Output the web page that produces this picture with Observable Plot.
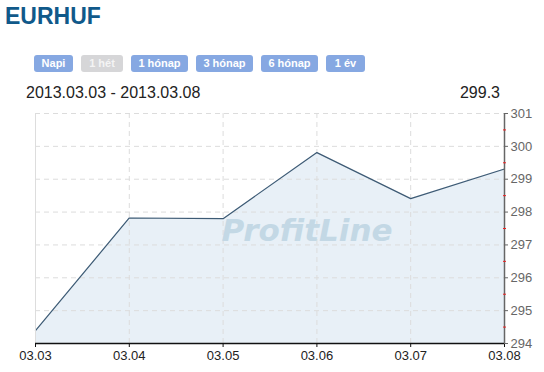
<!DOCTYPE html>
<html><head><meta charset="utf-8">
<script src="https://cdn.jsdelivr.net/npm/d3@7"></script>
<script src="https://cdn.jsdelivr.net/npm/@observablehq/plot@0.6"></script>
<style>
body{margin:0;background:#fff;font-family:"Liberation Sans",Arial,sans-serif;width:544px;height:372px;overflow:hidden;position:relative}
#title{position:absolute;left:5px;top:3px;font-size:23px;font-weight:bold;color:#10598a;letter-spacing:0px}
.btn{position:absolute;top:55px;height:17px;line-height:17px;border-radius:3px;background:#86a8e2;color:#fff;font-size:11px;font-weight:bold;text-align:center}
.btn.off{background:#d6d6d8;color:#f4f4f4}
#range{position:absolute;left:26px;top:84px;font-size:16px;color:#222}
#last{position:absolute;right:44px;top:84px;font-size:16px;color:#222}
#chart{position:absolute;left:0;top:104px}
</style></head><body>
<div id="title">EURHUF</div>
<div id="buttons"></div>
<div id="range"></div>
<div id="last"></div>
<div id="chart"></div>
<script>
const dates = ["03.03","03.04","03.05","03.06","03.07","03.08"];
const rates = [294.39, 297.82, 297.80, 299.81, 298.41, 299.31];
const yTicks = [294,295,296,297,298,299,300,301];
const yMinor = [294.5,295.5,296.5,297.5,298.5,299.5,300.5];
const buttonLabels = ["Napi","1 hét","1 hónap","3 hónap","6 hónap","1 év"];
const buttonX = [34,81,131,196,261,326];
const buttonW = [39,42,57,57,57,39];
const rangeText = "2013.03.03 - 2013.03.08";
const lastText = "299.3";

const bdiv = document.getElementById("buttons");
buttonLabels.forEach((t,i)=>{
  const b=document.createElement("div");
  b.className="btn"+(i===1?" off":"");
  b.style.left=buttonX[i]+"px"; b.style.width=buttonW[i]+"px";
  b.textContent=t; bdiv.appendChild(b);
});
document.getElementById("range").textContent=rangeText;
document.getElementById("last").textContent=lastText;

const data = dates.map((d,i)=>({i, d, v: rates[i]}));
const idx = dates.map((d,i)=>i);

const chart = Plot.plot({
  width: 544, height: 268,
  marginTop: 9, marginBottom: 29, marginLeft: 35, marginRight: 40,
  style: {fontFamily: "Liberation Sans, Arial, sans-serif", fontSize: "12px", background: "transparent"},
  x: {type: "linear", domain: [0, 5], axis: null, label: null},
  y: {type: "linear", domain: [294, 301], axis: null, label: null},
  marks: [
    Plot.areaY(data, {x: "i", y1: 294, y2: "v", fill: "#e8f0f7"}),
    Plot.ruleY(yTicks, {stroke: "#dcdcdc", strokeDasharray: "5,4"}),
    Plot.ruleX(idx.slice(1,5), {stroke: "#dcdcdc", strokeDasharray: "5,4"}),
    Plot.text(["ProfitLine"], {frameAnchor: "middle", dx: 37, dy: 3, fontSize: 31, fontWeight: "bold", fontStyle: "italic", fill: "#c3d8e5", fontFamily: "DejaVu Sans, sans-serif"}),
    Plot.lineY(data, {x: "i", y: "v", stroke: "#3d5a74", strokeWidth: 1.2}),
    Plot.ruleX([0], {stroke: "#ddd"}),
    Plot.ruleY([294], {stroke: "#111", strokeWidth: 1.5}),
    Plot.ruleX([5], {stroke: "#666", strokeWidth: 1.5}),
    Plot.axisY(yMinor, {anchor: "right", tickSize: 3, dx: -2, text: null, stroke: "#ee2020", label: null}),
    Plot.axisX(idx, {tickFormat: i => dates[i], tickSize: 4, tickPadding: 3, fontSize: 13, fill: "#222", stroke: "#111", anchor: "bottom", label: null}),
    Plot.axisY(yTicks, {anchor: "right", tickSize: 4, dx: -1, tickPadding: 3, fontSize: 13, fill: "#666", stroke: "#666", label: null})
  ]
});
document.getElementById("chart").appendChild(chart);
</script>
</body></html>
